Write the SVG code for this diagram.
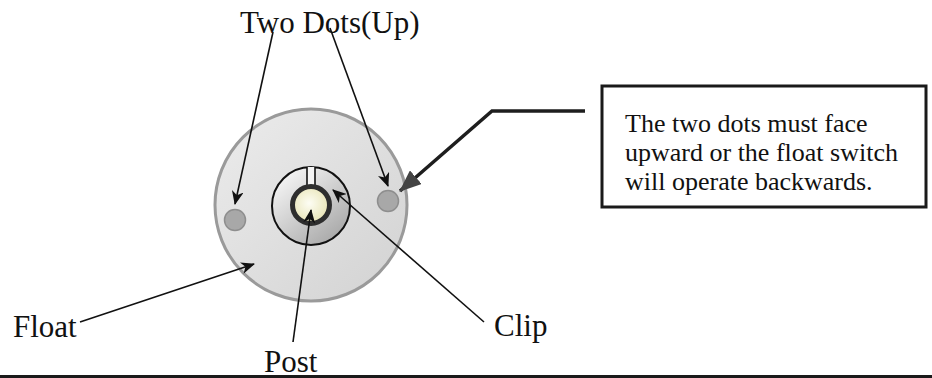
<svg xmlns="http://www.w3.org/2000/svg" width="932" height="378" viewBox="0 0 932 378">
<style>
.lbl{font-family:"Liberation Serif","Times New Roman",serif;font-size:31px;fill:#111}
.note{font-family:"Liberation Serif","Times New Roman",serif;font-size:26px;fill:#111}
.conn{stroke:#111;stroke-width:1.6;fill:none}
</style>
<defs>
<marker id="ah" markerUnits="userSpaceOnUse" markerWidth="14" markerHeight="12" refX="13" refY="6" orient="auto">
<path d="M0,0 L14,6 L0,12 L4,6 Z" fill="#111"/>
</marker>
<marker id="ahBig" markerUnits="userSpaceOnUse" markerWidth="22" markerHeight="18" refX="21" refY="9" orient="auto">
<path d="M0,0 L22,9 L0,18 Z" fill="#444"/>
</marker>
<linearGradient id="floatG" x1="0" y1="0" x2="1" y2="1">
<stop offset="0" stop-color="#ececec"/>
<stop offset="1" stop-color="#d2d2d2"/>
</linearGradient>
<linearGradient id="ringG" x1="0.2" y1="0.1" x2="0.85" y2="0.9">
<stop offset="0" stop-color="#f2f2f2"/>
<stop offset="1" stop-color="#a9a9a9"/>
</linearGradient>
<radialGradient id="postG" cx="0.45" cy="0.45" r="0.6">
<stop offset="0" stop-color="#fdfdf4"/>
<stop offset="1" stop-color="#e6e2b0"/>
</radialGradient>
</defs>
<rect width="932" height="378" fill="#fff"/>

<g id="float">
<circle cx="311" cy="205" r="96" fill="url(#floatG)" stroke="#9a9a9a" stroke-width="3"/>
</g>
<g id="dot-left">
<circle cx="235" cy="220" r="10.5" fill="#a8a8a8" stroke="#8e8e8e" stroke-width="1.5"/>
</g>
<g id="dot-right">
<circle cx="388" cy="201" r="10.5" fill="#a8a8a8" stroke="#8e8e8e" stroke-width="1.5"/>
</g>
<g id="clip">
<circle cx="311" cy="206" r="39" fill="url(#ringG)" stroke="#111" stroke-width="2"/>
<rect x="307" y="167" width="8" height="19" fill="#f4f4f4"/>
<line x1="307" y1="167" x2="307" y2="186" stroke="#111" stroke-width="1.6"/>
<line x1="315" y1="167" x2="315" y2="186" stroke="#111" stroke-width="1.6"/>
</g>
<g id="post">
<circle cx="311" cy="205" r="18.5" fill="url(#postG)" stroke="#2e2e2e" stroke-width="5"/>
</g>

<g id="note">
<rect x="602" y="86" width="324" height="121" fill="#fff" stroke="#1a1a1a" stroke-width="3"/>
<text class="note" font-family="Liberation Serif, Times New Roman, serif" x="625" y="132">The two dots must face</text>
<text class="note" font-family="Liberation Serif, Times New Roman, serif" x="625" y="161">upward or the float switch</text>
<text class="note" font-family="Liberation Serif, Times New Roman, serif" x="625" y="190">will operate backwards.</text>
</g>

<g id="labels">
<text class="lbl" x="240" y="33">Two Dots(Up)</text>
<text class="lbl" x="13" y="337">Float</text>
<text class="lbl" x="264" y="372">Post</text>
<text class="lbl" x="494" y="336">Clip</text>
</g>

<g id="connectors">
<line class="conn" x1="273" y1="32" x2="235" y2="204" marker-end="url(#ah)"/>
<line class="conn" x1="330" y1="28" x2="388" y2="186" marker-end="url(#ah)"/>
<line class="conn" x1="80" y1="322" x2="254" y2="264" marker-end="url(#ah)"/>
<line class="conn" x1="293" y1="342" x2="311" y2="210" marker-end="url(#ah)"/>
<line class="conn" x1="484" y1="322" x2="333" y2="190" marker-end="url(#ah)"/>
<polyline points="585,111 492,111 400,191" fill="none" stroke="#1e1e1e" stroke-width="3.5" marker-end="url(#ahBig)"/>
</g>

<line id="baseline" x1="0" y1="376.5" x2="932" y2="376.5" stroke="#1a1a1a" stroke-width="3"/>
</svg>
